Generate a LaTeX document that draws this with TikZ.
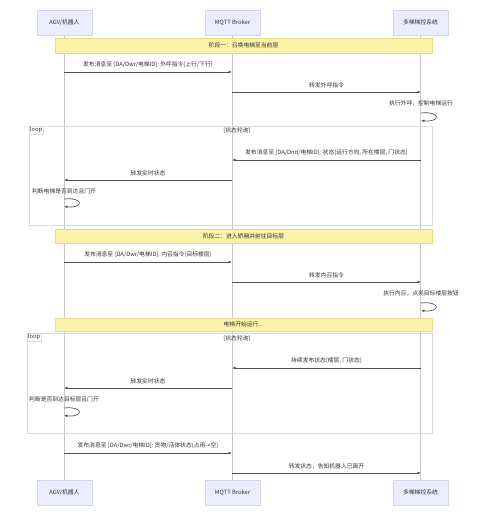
\documentclass[tikz,border=0pt]{standalone}
\usepackage{fontspec}
\setmainfont{Noto Sans CJK SC}
\usetikzlibrary{arrows.meta,positioning}

\definecolor{actorfill}{HTML}{ECECFF}
\definecolor{actorline}{HTML}{D4D4F4}
\definecolor{barfill}{HTML}{FAF3A8}
\definecolor{barline}{HTML}{E4DC8A}
\definecolor{inkgray}{HTML}{333333}
\definecolor{lifegray}{HTML}{C8C8C8}
\definecolor{framegray}{HTML}{DADADA}

\begin{document}
\begin{tikzpicture}[x=1pt,y=-1pt,
  font=\fontsize{5.8}{7}\selectfont, text=inkgray,
  actor/.style={draw=actorline, fill=actorfill, line width=0.5pt,
    minimum width=55pt, minimum height=25pt, inner sep=0pt},
  lifeline/.style={draw=lifegray, line width=0.5pt},
  stagebar/.style={draw=barline, fill=barfill, line width=0.5pt,
    minimum width=377pt, inner sep=0pt},
  loopframe/.style={draw=framegray, line width=0.6pt, inner sep=0pt},
  looptag/.style={draw=framegray, fill=white, line width=0.4pt,
    inner sep=1pt, anchor=north west},
  msg/.style={draw=inkgray!85, line width=0.7pt,
    -{Latex[length=3.5pt,width=2.8pt]}},
  msglabel/.style={above=4pt, inner sep=0pt},
  note/.style={inner sep=0pt}]
  \useasboundingbox (0,0) rectangle (486,516);
  \def \xa {64}
  \def \xb {232}
  \def \xc {421}

  % participants, top and bottom
  \node[actor] (agvtop) at (64.5,22.5) {AGV/机器人};
  \node[actor] (mqtttop) at (232.5,22.5) {MQTT Broker};
  \node[actor] (ctrltop) at (420.5,22.5) {多梯梯控系统};
  \node[actor] (agvbot) at (64.5,492.5) {AGV/机器人};
  \node[actor] (mqttbot) at (232.5,492.5) {MQTT Broker};
  \node[actor] (ctrlbot) at (420.5,492.5) {多梯梯控系统};

  \draw[lifeline] (agvtop) -- (agvbot);
  \draw[lifeline] (mqtttop) -- (mqttbot);
  \draw[lifeline] (ctrltop) -- (ctrlbot);

  % points on the lifelines where the messages run
  \foreach \n/\y in {1/72,2/92,3/160,4/180,5/262,6/282,7/368,8/388,9/453,10/473}{
    \coordinate (agv\n) at (\xa,\y);
    \coordinate (mqtt\n) at (\xb,\y);
    \coordinate (ctrl\n) at (\xc,\y);
  }

  % loops
  \node[loopframe, minimum width=403pt, minimum height=99pt] (loopa) at (230.5,175.5) {};
  \node[looptag] (loopatag) at (loopa.north west) {loop};
  \node (loopacond) at (237,131) {[状态轮询]};
  \node[loopframe, minimum width=405pt, minimum height=100pt] (loopb) at (229.5,383) {};
  \node[looptag] (loopbtag) at (loopb.north west) {loop};
  \node (loopbcond) at (237,339) {[状态轮询]};

  % stage bars
  \node[stagebar, minimum height=15pt] (stageone) at (243.5,45.5) {阶段一：召唤电梯至当前层};
  \node[stagebar, minimum height=14pt] (stagetwo) at (243.5,236) {阶段二：进入轿厢并前往目标层};
  \node[stagebar, minimum height=13pt] (running) at (243.5,324.5) {电梯开始运行...};

  % phase one
  \draw[msg] (agv1) -- node[msglabel] (lblone) {发布消息至 [DA/Dwr/电梯ID]: 外呼指令(上行/下行)} (mqtt1);
  \draw[msg] (mqtt2) -- node[msglabel] (lbltwo) {转发外呼指令} (ctrl2);
  \node[note] (callout) at (\xc,103) {执行外呼，控制电梯运行};
  \coordinate (selfaa) at (\xc,113);
  \coordinate (selfab) at (\xc,120.5);
  \draw[msg] (selfaa) .. controls +(20,-2) and +(20,2) .. (selfab);

  \draw[msg] (ctrl3) -- node[msglabel] (lblthree) {发布消息至 [DA/Dnd/电梯ID]: 状态(运行方向, 所在楼层, 门状态)} (mqtt3);
  \draw[msg] (mqtt4) -- node[msglabel] (lblfour) {转发实时状态} (agv4);
  \node[note] (checkdoor) at (\xa,191) {判断电梯是否到达且门开};
  \coordinate (selfba) at (\xa,199);
  \coordinate (selfbb) at (\xa,206.5);
  \draw[msg] (selfba) .. controls +(20,-2) and +(20,2) .. (selfbb);

  % phase two
  \draw[msg] (agv5) -- node[msglabel] (lblfive) {发布消息至 [DA/Dwr/电梯ID]: 内召指令(目标楼层)} (mqtt5);
  \draw[msg] (mqtt6) -- node[msglabel] (lblsix) {转发内召指令} (ctrl6);
  \node[note] (callin) at (\xc,293) {执行内召，点亮目标楼层按钮};
  \coordinate (selfca) at (\xc,303);
  \coordinate (selfcb) at (\xc,310.5);
  \draw[msg] (selfca) .. controls +(20,-2) and +(20,2) .. (selfcb);

  \draw[msg] (ctrl7) -- node[msglabel] (lblseven) {持续发布状态(楼层, 门状态)} (mqtt7);
  \draw[msg] (mqtt8) -- node[msglabel] (lbleight) {转发实时状态} (agv8);
  \node[note] (checktarget) at (\xa,399) {判断是否到达目标层且门开};
  \coordinate (selfda) at (\xa,408);
  \coordinate (selfdb) at (\xa,415.5);
  \draw[msg] (selfda) .. controls +(20,-2) and +(20,2) .. (selfdb);

  % leaving
  \draw[msg] (agv9) -- node[msglabel] (lblnine) {发布消息至 [DA/Dwr/电梯ID]: 货物/活体状态(占用->空)} (mqtt9);
  \draw[msg] (mqtt10) -- node[msglabel] (lblten) {转发状态，告知机器人已离开} (ctrl10);
\end{tikzpicture}
\end{document}
